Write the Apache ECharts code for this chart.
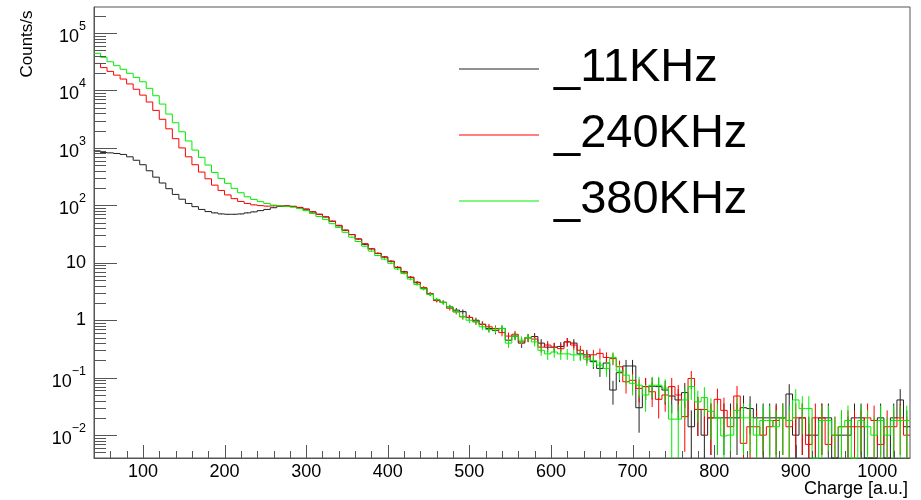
<!DOCTYPE html>
<html>
<head>
<meta charset="utf-8">
<title>Charge spectra</title>
<script src="https://cdn.jsdelivr.net/npm/echarts@6/dist/echarts.min.js"></script>
<style>
  html, body { margin: 0; padding: 0; background: #fff; }
  #chart { width: 921px; height: 500px; }
</style>
</head>
<body>
<div id="chart"></div>
<script>
// 125 bins of 8 a.u., from 40 to 1040
const binStart = 40;
const binWidth = 8;

// counts/s per bin
const rate11k = [
  890, 830, 820, 800, 770, 700, 610, 510, 400, 310, 245, 195, 155, 128, 108, 95, 85, 78, 74, 71, 70, 70, 71, 74, 77, 81, 85,
  91, 96, 98, 96, 92, 86, 77, 70, 63, 53, 44, 37, 31, 26, 21, 17.5, 14.6, 12.7, 10.7, 8.3, 7.0, 5.6, 4.5, 3.6, 2.85,
  2.24, 2.05, 1.71, 1.50, 1.41, 1.12, 1.0, 0.85, 0.72, 0.66, 0.72, 0.45, 0.53, 0.40, 0.50, 0.52, 0.40, 0.34, 0.34, 0.35, 0.42, 0.40, 0.26, 0.25,
  0.19, 0.145, 0.18, 0.061, 0.122, 0.16, 0.16, 0.030, 0.070, 0.071, 0.070, 0.061, 0.048, 0.041, 0.055, 0.014, 0.028, 0.010, 0.020, 0.020, 0.020, 0.020, 0.020, 0.030, 0.029,
  0.020, 0.020, 0.020, 0.020, 0.020, 0.052, 0.010, 0.020, 0.010, 0.010, 0.020, 0.020, 0, 0.010, 0.010, 0.020, 0.020, 0, 0, 0.020, 0, 0.020, 0.041, 0.014
];
const rate240k = [
  29600, 25000, 21500, 18500, 15800, 13000, 10500, 8300, 6300, 4500, 3150, 2150, 1450, 1000, 700, 510, 380, 290, 225, 182, 152, 131, 117, 108, 102, 99, 97,
  98, 98, 98, 96, 92, 86, 77, 70, 63, 53, 45, 37, 31, 26, 21.5, 17.5, 14.6, 12.5, 10.5, 8.4, 6.9, 5.6, 4.6, 3.7, 2.9,
  2.2, 2.05, 1.62, 1.40, 1.15, 1.12, 0.94, 0.85, 0.77, 0.72, 0.61, 0.53, 0.57, 0.42, 0.49, 0.47, 0.34, 0.37, 0.34, 0.32, 0.42, 0.37, 0.30, 0.23,
  0.25, 0.265, 0.225, 0.215, 0.155, 0.085, 0.09, 0.065, 0.070, 0.057, 0.042, 0.05, 0.07, 0.05, 0.021, 0.097, 0.028, 0.028, 0.020, 0.042, 0.027, 0.014, 0.048, 0.0072, 0.014,
  0.014, 0.010, 0.014, 0.018, 0.020, 0.014, 0.020, 0.020, 0.0069, 0.020, 0.020, 0.0069, 0.010, 0.014, 0.014, 0.014, 0.014, 0.020, 0.018, 0.0069, 0.014, 0.014, 0.020, 0.010
];
const rate380k = [
  44300, 37800, 31600, 27000, 23400, 19900, 16900, 14200, 10900, 8100, 5800, 3890, 2740, 1910, 1320, 918, 684, 504, 375, 295, 242, 198, 166, 141, 127, 116, 108,
  101, 98, 96, 93, 88, 81, 72, 64, 57, 48, 41, 34, 28, 23.5, 19.5, 16, 13.4, 11.6, 9.8, 7.8, 6.5, 5.2, 4.2, 3.5, 2.8,
  2.3, 2.05, 1.71, 1.40, 1.15, 1.0, 0.94, 0.77, 0.69, 0.68, 0.72, 0.40, 0.53, 0.45, 0.50, 0.42, 0.30, 0.26, 0.28, 0.26, 0.26, 0.25, 0.25, 0.21,
  0.20, 0.166, 0.145, 0.225, 0.13, 0.111, 0.08, 0.074, 0.05, 0.074, 0.074, 0.066, 0.019, 0.019, 0.041, 0.07, 0.038, 0.045, 0.026, 0.020, 0.0097, 0.010, 0.027, 0.020, 0.020,
  0.010, 0.018, 0.018, 0.014, 0.020, 0.018, 0.041, 0.029, 0.029, 0, 0.018, 0.018, 0.010, 0.014, 0.018, 0, 0.018, 0.014, 0.010, 0.018, 0.010, 0.018, 0.018, 0.018
];

const seriesNames = ['_11KHz', '_240KHz', '_380KHz'];
const seriesColors = ['#222222', '#ff0000', '#00ee00'];
const xTickLabels = [100, 200, 300, 400, 500, 600, 700, 800, 900, 1000];
const yTickPowers = [-2, -1, 0, 1, 2, 3, 4, 5];

// rate of one count, used for the poisson error bars
const countUnit = 0.012;

const xMin = 40, xMax = 1040;
const yMin = 0.004, yMax = 2.84e5;
const fontFamily = '"Liberation Sans", Arial, Helvetica, sans-serif';

function toBins(values) {
  return values.map(function (v, i) {
    return [binStart + i * binWidth, binStart + (i + 1) * binWidth, v];
  });
}

// ROOT style step histogram with vertical error bars
function histRender(values, color) {
  return function (params, api) {
    const i = params.dataIndex;
    const cs = params.coordSys;
    const bottom = cs.y + cs.height;
    const lo = api.value(0), hi = api.value(1), v = api.value(2);
    const yOf = function (val) {
      if (!(val > 0)) return bottom;
      return Math.min(api.coord([lo, val])[1], bottom);
    };
    const x0 = api.coord([lo, 1])[0];
    const x1 = api.coord([hi, 1])[0];
    const y = yOf(v);
    const yPrev = i > 0 ? yOf(values[i - 1]) : y;
    const style = { stroke: color, lineWidth: 1, fill: null };
    const children = [{
      type: 'polyline',
      shape: { points: [[x0, yPrev], [x0, y], [x1, y]] },
      style: style
    }];
    if (v > 0) {
      const err = Math.sqrt(v * countUnit);
      const xc = (x0 + x1) / 2;
      children.push({
        type: 'line',
        shape: { x1: xc, y1: yOf(v + err), x2: xc, y2: v - err > 0 ? yOf(v - err) : bottom },
        style: style
      });
    }
    return { type: 'group', children: children };
  };
}

// tick marks inside the frame, ROOT style
const tickData = [];
xTickLabels.forEach(function (t) { tickData.push([t, yMin, 13, 0]); });
for (let t = 60; t < xMax; t += 20) {
  if (t % 100 !== 0) tickData.push([t, yMin, 7, 0]);
}
yTickPowers.forEach(function (p) { tickData.push([xMin, Math.pow(10, p), 23, 1]); });
for (let p = -3; p <= 5; p++) {
  for (let m = 2; m <= 9; m++) {
    const v = m * Math.pow(10, p);
    if (v > yMin && v < yMax) tickData.push([xMin, v, 12, 1]);
  }
}

function tickRender(params, api) {
  const cs = params.coordSys;
  const pt = api.coord([api.value(0), api.value(1)]);
  const len = api.value(2);
  let shape;
  if (api.value(3) === 0) {
    const x = Math.round(pt[0]) + 0.5;
    const b = cs.y + cs.height;
    shape = { x1: x, y1: b, x2: x, y2: b - len };
  } else {
    const y = Math.round(pt[1]) + 0.5;
    shape = { x1: cs.x, y1: y, x2: cs.x + len, y2: y };
  }
  return { type: 'line', shape: shape, style: { stroke: '#555', lineWidth: 1 } };
}

const allRates = [rate11k, rate240k, rate380k];
const series = allRates.map(function (values, k) {
  return {
    name: seriesNames[k],
    type: 'custom',
    renderItem: histRender(values, seriesColors[k]),
    data: toBins(values),
    encode: { x: [0, 1], y: 2 },
    silent: true,
    z: 2 + k
  };
});
series.push({
  type: 'custom',
  renderItem: tickRender,
  data: tickData,
  encode: { x: 0, y: 1 },
  silent: true,
  z: 10
});

// legend drawn like a TLegend: line sample + big label
const legendGraphics = [];
const legendRowsY = [69, 135, 201];
seriesNames.forEach(function (name, k) {
  legendGraphics.push({
    type: 'line',
    shape: { x1: 459, y1: legendRowsY[k], x2: 539, y2: legendRowsY[k] },
    style: { stroke: seriesColors[k], lineWidth: 1 },
    silent: true
  });
  legendGraphics.push({
    type: 'text',
    x: 554,
    y: legendRowsY[k] - 1,
    style: {
      text: name,
      font: '47px ' + fontFamily,
      fill: '#000',
      align: 'left',
      verticalAlign: 'middle'
    },
    silent: true
  });
});

const chart = echarts.init(document.getElementById('chart'));
const option = {
  animation: false,
  backgroundColor: '#ffffff',
  grid: {
    left: 94, right: 11, top: 7, bottom: 42,
    show: true, borderColor: '#555', borderWidth: 1, backgroundColor: 'transparent'
  },
  xAxis: {
    type: 'value',
    min: xMin,
    max: xMax,
    splitNumber: 10,
    axisLine: { onZero: false, lineStyle: { color: '#555', width: 1 } },
    axisTick: { show: false },
    splitLine: { show: false },
    axisLabel: {
      showMinLabel: false,
      showMaxLabel: false,
      fontSize: 18,
      fontFamily: fontFamily,
      color: '#000',
      margin: 5,
      formatter: function (v) { return String(v); }
    }
  },
  yAxis: {
    type: 'log',
    logBase: 10,
    min: yMin,
    max: yMax,
    axisLine: { lineStyle: { color: '#555', width: 1 } },
    axisTick: { show: false },
    splitLine: { show: false },
    axisLabel: {
      showMinLabel: false,
      showMaxLabel: false,
      margin: 8,
      formatter: function (v) {
        const p = Math.round(Math.log10(v));
        if (p === 0) return '{n|1}';
        if (p === 1) return '{n|10}';
        return '{b|10}{s|' + String(p).replace('-', '\u2212') + '}';
      },
      rich: {
        n: { fontSize: 18, fontFamily: fontFamily, color: '#000' },
        b: { fontSize: 18, fontFamily: fontFamily, color: '#000', verticalAlign: 'bottom', lineHeight: 26 },
        s: { fontSize: 12.5, fontFamily: fontFamily, color: '#000', verticalAlign: 'top', lineHeight: 14 }
      }
    }
  },
  graphic: legendGraphics.concat([
    {
      type: 'text',
      x: 27,
      y: 44,
      rotation: Math.PI / 2,
      style: {
        text: 'Counts/s',
        font: '17px ' + fontFamily,
        fill: '#000',
        align: 'center',
        verticalAlign: 'middle'
      },
      silent: true
    },
    {
      type: 'text',
      x: 908,
      y: 489,
      style: {
        text: 'Charge [a.u.]',
        font: '18px ' + fontFamily,
        fill: '#000',
        align: 'right',
        verticalAlign: 'middle'
      },
      silent: true
    }
  ]),
  series: series
};
chart.setOption(option);
window.onresize = function () {
  chart.resize();
};
</script>
</body>
</html>
